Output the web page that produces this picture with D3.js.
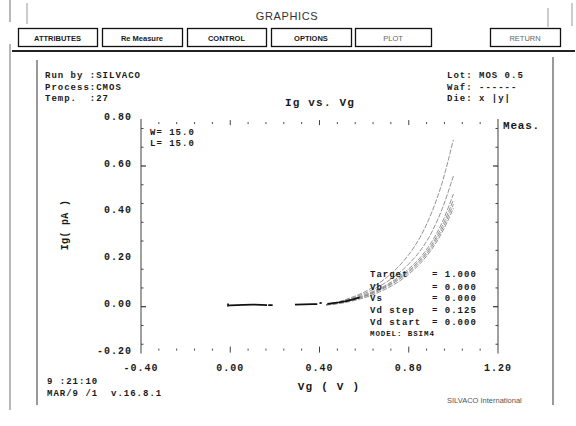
<!DOCTYPE html>
<html>
<head>
<meta charset="utf-8">
<script src="https://cdn.jsdelivr.net/npm/d3@7"></script>
<style>
  html, body { margin: 0; padding: 0; background: #fff; }
  svg { display: block; }
  .mono { font-family: "Liberation Mono", "DejaVu Sans Mono", monospace; font-weight: bold; fill: #1a1a1a; }
  .sans { font-family: "Liberation Sans", Arial, sans-serif; }
</style>
</head>
<body>
<svg id="chart" width="576" height="426"></svg>
<script>
// ---- data ----
const buttonLabels = ["ATTRIBUTES", "Re Measure", "CONTROL", "OPTIONS", "PLOT", "RETURN"];
const buttonEnabled = [true, true, true, true, false, false];

const xTickValues = [-0.40, 0.00, 0.40, 0.80, 1.20];
const xTickLabels = ["-0.40", "0.00", "0.40", "0.80", "1.20"];
const xMajorTicks = [0.00, 0.40, 0.80];
const xMinorTicks = [-0.32, -0.24, -0.16, -0.08, 0.08, 0.16, 0.24, 0.32,
                     0.48, 0.56, 0.64, 0.72, 0.88, 0.96, 1.04, 1.12];

const yTickValues = [-0.20, 0.00, 0.20, 0.40, 0.60, 0.80];
const yTickLabels = ["-0.20", "0.00", "0.20", "0.40", "0.60", "0.80"];
const yMajorTicks = [0.00, 0.60];
const yMinorLeft = [0.76, 0.68, 0.52, 0.44, 0.36, 0.28, 0.16, 0.08, -0.08, -0.16];
const yMinorRight = [0.76, 0.68, 0.52, 0.44, 0.36, 0.24, 0.16, 0.08, -0.08, -0.16];

// simulated Ig (pA) vs Vg (V), one array per curve
const vgSim = [0.43, 0.45, 0.50, 0.55, 0.60, 0.65, 0.70, 0.75, 0.80, 0.85, 0.90, 0.95, 1.00];
const igSim1 = [0.008, 0.012, 0.025, 0.042, 0.062, 0.090, 0.124, 0.167, 0.222, 0.295, 0.395, 0.530, 0.712];
const igSim2 = [0.008, 0.011, 0.023, 0.038, 0.056, 0.078, 0.105, 0.139, 0.182, 0.237, 0.312, 0.418, 0.557];
const igSim3 = [0.008, 0.011, 0.021, 0.034, 0.050, 0.069, 0.093, 0.123, 0.161, 0.208, 0.272, 0.360, 0.480];
const igSim4 = [0.008, 0.010, 0.019, 0.031, 0.046, 0.065, 0.088, 0.117, 0.153, 0.199, 0.260, 0.344, 0.455];
const igSim5 = [0.008, 0.010, 0.018, 0.029, 0.043, 0.061, 0.084, 0.112, 0.147, 0.192, 0.251, 0.331, 0.437];
const igSim6 = [0.008, 0.009, 0.015, 0.025, 0.038, 0.055, 0.077, 0.104, 0.139, 0.183, 0.241, 0.318, 0.420];

// measured Ig (pA); null marks a missing reading
const vgMeas = [-0.01, -0.01, 0.00, 0.03, 0.06, 0.10, 0.14, 0.165, 0.168, 0.17, 0.19, 0.22,
                0.29, 0.33, 0.37, 0.39, 0.395, 0.40, 0.41, 0.42, 0.435, 0.46, 0.49, 0.52, 0.55, 0.58];
const igMeas = [0.014, 0.004, 0.006, 0.007, 0.008, 0.009, 0.008, 0.007, null, 0.007, 0.007, null,
                0.009, 0.010, 0.011, 0.011, null, 0.015, 0.016, null, 0.012, 0.015, 0.019, 0.024, 0.031, 0.040];

const infoLeft = ["Run by :SILVACO", "Process:CMOS", "Temp.  :27"];
const infoRight = ["Lot: MOS 0.5", "Waf: ------", "Die: x |y|"];
const deviceInfo = ["W= 15.0", "L= 15.0"];
const paramNames = ["Target", "Vb", "Vs", "Vd step", "Vd start"];
const paramValues = ["= 1.000", "= 0.000", "= 0.000", "= 0.125", "= 0.000"];
const modelName = "MODEL: BSIM4";
const stampLines = ["9 :21:10", "MAR/9 /1  v.16.8.1"];

// ---- drawing ----
const svg = d3.select("#chart");
svg.append("rect").attr("width", 576).attr("height", 426).attr("fill", "#fff");

// window header
svg.append("text").attr("class", "sans").attr("x", 287).attr("y", 20)
  .attr("text-anchor", "middle").attr("font-size", 11).attr("fill", "#333")
  .attr("letter-spacing", 0.6).text("GRAPHICS");

const btnX = [18, 102, 187, 271, 355, 490];
const btnW = [79, 80, 79, 80, 76, 70];
const btn = svg.append("g").selectAll("g").data(buttonLabels).join("g");
btn.append("rect")
  .attr("x", (d, i) => btnX[i] + 0.5).attr("y", 28.5)
  .attr("width", (d, i) => btnW[i]).attr("height", 18)
  .attr("fill", "#fff").attr("stroke", "#111").attr("stroke-width", 1.3);
btn.append("text").attr("class", "sans")
  .attr("x", (d, i) => btnX[i] + btnW[i] / 2).attr("y", 40.5)
  .attr("text-anchor", "middle").attr("font-size", 7.5)
  .attr("font-weight", (d, i) => buttonEnabled[i] ? "bold" : "normal")
  .attr("fill", (d, i) => buttonEnabled[i] ? "#1a1a1a" : "#666")
  .text(d => d);

// frame lines
const frame = svg.append("g").attr("fill", "none");
frame.append("line").attr("x1", 12).attr("x2", 575).attr("y1", 51).attr("y2", 51)
  .attr("stroke", "#222").attr("stroke-width", 2);
frame.append("line").attr("x1", 10).attr("x2", 10).attr("y1", 0).attr("y2", 22)
  .attr("stroke", "#888").attr("stroke-width", 1.2);
frame.append("line").attr("x1", 10).attr("x2", 10).attr("y1", 44).attr("y2", 410)
  .attr("stroke", "#888").attr("stroke-width", 1.2);
frame.append("line").attr("x1", 27).attr("x2", 27).attr("y1", 3).attr("y2", 24)
  .attr("stroke", "#999").attr("stroke-width", 1);
frame.append("line").attr("x1", 548).attr("x2", 548).attr("y1", 8).attr("y2", 27)
  .attr("stroke", "#999").attr("stroke-width", 1);
frame.append("line").attr("x1", 572).attr("x2", 572).attr("y1", 3).attr("y2", 26)
  .attr("stroke", "#999").attr("stroke-width", 1);
frame.append("line").attr("x1", 37).attr("x2", 37).attr("y1", 60).attr("y2", 405)
  .attr("stroke", "#999").attr("stroke-width", 2);
frame.append("line").attr("x1", 553).attr("x2", 553).attr("y1", 57).attr("y2", 405)
  .attr("stroke", "#999").attr("stroke-width", 2);

// scales
const x = d3.scaleLinear().domain([-0.4, 1.2]).range([141, 498]);
const y = d3.scaleLinear().domain([-0.2, 0.8]).range([353.6, 119.1]);

// vertical axis lines
const ax = svg.append("g");
ax.append("line").attr("x1", x(-0.4)).attr("x2", x(-0.4)).attr("y1", y(0.8)).attr("y2", y(-0.2))
  .attr("stroke", "#888").attr("stroke-width", 1.6);
ax.append("line").attr("x1", x(1.2)).attr("x2", x(1.2)).attr("y1", y(0.8)).attr("y2", y(-0.2))
  .attr("stroke", "#888").attr("stroke-width", 1.6);

// x ticks, top and bottom (no horizontal axis line)
const topY = y(0.8), botY = y(-0.2);
ax.selectAll(".xmin").data(xMinorTicks).join("line")
  .attr("x1", d => x(d)).attr("x2", d => x(d)).attr("y1", topY + 3).attr("y2", topY + 5)
  .attr("stroke", "#444").attr("stroke-width", 1);
ax.selectAll(".xminb").data(xMinorTicks).join("line")
  .attr("x1", d => x(d)).attr("x2", d => x(d)).attr("y1", botY - 5).attr("y2", botY - 3)
  .attr("stroke", "#444").attr("stroke-width", 1);
ax.selectAll(".xmaj").data(xMajorTicks).join("line")
  .attr("x1", d => x(d)).attr("x2", d => x(d)).attr("y1", topY + 1).attr("y2", topY + 6)
  .attr("stroke", "#444").attr("stroke-width", 1);
ax.selectAll(".xmajb").data(xMajorTicks).join("line")
  .attr("x1", d => x(d)).attr("x2", d => x(d)).attr("y1", botY - 7).attr("y2", botY - 1)
  .attr("stroke", "#444").attr("stroke-width", 1);

// y ticks, left and right
ax.selectAll(".ymin").data(yMinorLeft).join("line")
  .attr("x1", x(-0.4)).attr("x2", x(-0.4) + 2.5).attr("y1", d => y(d)).attr("y2", d => y(d))
  .attr("stroke", "#444").attr("stroke-width", 1);
ax.selectAll(".yminr").data(yMinorRight).join("line")
  .attr("x1", x(1.2) - 2.5).attr("x2", x(1.2)).attr("y1", d => y(d)).attr("y2", d => y(d))
  .attr("stroke", "#444").attr("stroke-width", 1);
ax.selectAll(".ymaj").data(yMajorTicks).join("line")
  .attr("x1", x(-0.4)).attr("x2", x(-0.4) + 5).attr("y1", d => y(d)).attr("y2", d => y(d))
  .attr("stroke", "#333").attr("stroke-width", 1.2);
ax.selectAll(".ymajr").data(yMajorTicks).join("line")
  .attr("x1", x(1.2) - 5).attr("x2", x(1.2)).attr("y1", d => y(d)).attr("y2", d => y(d))
  .attr("stroke", "#333").attr("stroke-width", 1.2);

// tick labels
ax.selectAll(".xl").data(xTickValues).join("text").attr("class", "mono")
  .attr("x", d => x(d)).attr("y", 371).attr("text-anchor", "middle")
  .attr("font-size", 10).attr("letter-spacing", 1)
  .text((d, i) => xTickLabels[i]);
ax.selectAll(".yl").data(yTickValues).join("text").attr("class", "mono")
  .attr("x", 132).attr("y", d => y(d) + 0.5).attr("text-anchor", "end")
  .attr("font-size", 10).attr("letter-spacing", 1)
  .text((d, i) => yTickLabels[i]);

// axis titles and chart title
svg.append("text").attr("class", "mono").attr("x", 320).attr("y", 106)
  .attr("text-anchor", "middle").attr("font-size", 11).attr("letter-spacing", 1.2).text("Ig vs. Vg");
svg.append("text").attr("class", "mono").attr("x", 329).attr("y", 390)
  .attr("text-anchor", "middle").attr("font-size", 11).attr("letter-spacing", 1.2).text("Vg ( V )");
svg.append("text").attr("class", "mono")
  .attr("transform", "translate(68,225) rotate(-90)")
  .attr("text-anchor", "middle").attr("font-size", 10).attr("letter-spacing", 0.3).text("Ig( pA )");
svg.append("text").attr("class", "mono").attr("x", 503).attr("y", 129)
  .attr("font-size", 11).attr("letter-spacing", 0.8).text("Meas.");

// info blocks
const rowY = [78, 90, 101];
svg.selectAll(".il").data(infoLeft).join("text").attr("class", "mono")
  .attr("x", 45).attr("y", (d, i) => rowY[i]).attr("font-size", 9).attr("letter-spacing", 1)
  .style("white-space", "pre").text(d => d);
svg.selectAll(".ir").data(infoRight).join("text").attr("class", "mono")
  .attr("x", 447).attr("y", (d, i) => rowY[i]).attr("font-size", 9).attr("letter-spacing", 1)
  .style("white-space", "pre").text(d => d);
svg.selectAll(".dv").data(deviceInfo).join("text").attr("class", "mono")
  .attr("x", 150).attr("y", (d, i) => 135 + i * 11).attr("font-size", 9).attr("letter-spacing", 1)
  .text(d => d);
svg.selectAll(".st").data(stampLines).join("text").attr("class", "mono")
  .attr("x", 47).attr("y", (d, i) => 384 + i * 12).attr("font-size", 9).attr("letter-spacing", 1)
  .style("white-space", "pre").text(d => d);
svg.append("text").attr("class", "sans").attr("x", 447).attr("y", 403)
  .attr("font-size", 7.5).attr("fill", "#555").text("SILVACO International");

// curves
const plot = svg.append("g");
const simSeries = [igSim1, igSim2, igSim3, igSim4, igSim5, igSim6];
const simLine = d3.line().x(d => x(d[0])).y(d => y(d[1])).curve(d3.curveMonotoneX);
plot.selectAll(".sim").data(simSeries).join("path")
  .attr("d", s => simLine(vgSim.map((v, i) => [v, s[i]])))
  .attr("fill", "none").attr("stroke", "#777").attr("stroke-width", 0.8)
  .attr("stroke-dasharray", "5,1.5");

const measLine = d3.line().defined(d => d[1] != null).x(d => x(d[0])).y(d => y(d[1]));
plot.append("path")
  .attr("d", measLine(vgMeas.map((v, i) => [v, igMeas[i]])))
  .attr("fill", "none").attr("stroke", "#111").attr("stroke-width", 1.7);

// parameter block
const pRowY = [277, 290, 301, 313, 325];
svg.selectAll(".pn").data(paramNames).join("text").attr("class", "mono")
  .attr("x", 370).attr("y", (d, i) => pRowY[i]).attr("font-size", 9).attr("letter-spacing", 1)
  .text(d => d);
svg.selectAll(".pv").data(paramValues).join("text").attr("class", "mono")
  .attr("x", 432).attr("y", (d, i) => pRowY[i]).attr("font-size", 9).attr("letter-spacing", 1)
  .text(d => d);
svg.append("text").attr("class", "mono").attr("x", 370).attr("y", 336)
  .attr("font-size", 7.5).attr("letter-spacing", 0.9).attr("fill", "#444").text(modelName);
</script>
</body>
</html>
